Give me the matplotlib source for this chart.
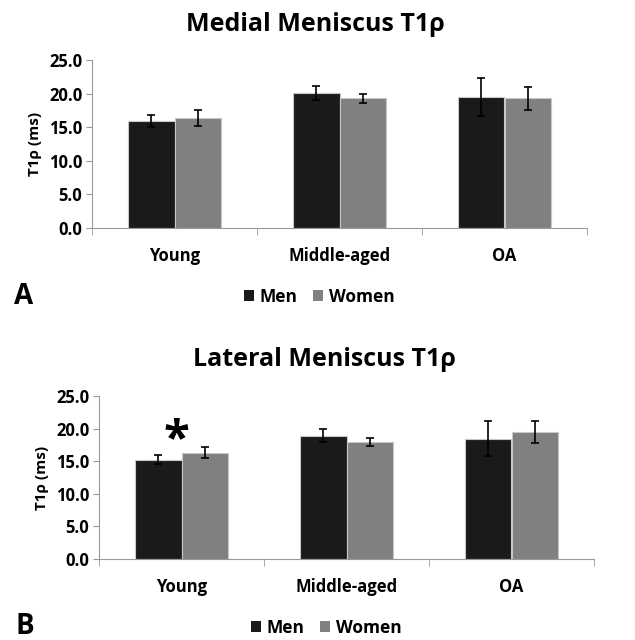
import numpy as np
import matplotlib
matplotlib.use('Agg')
import matplotlib.pyplot as plt
from matplotlib.patches import Patch

plt.rcParams['font.family'] = ['Open Sans', 'DejaVu Sans']

groups = ['Young', 'Middle-aged', 'OA']
series = ['Men', 'Women']

# Medial meniscus T1rho (ms): mean and error
medial_men = [15.9, 20.1, 19.5]
medial_men_err = [0.9, 1.1, 2.8]
medial_women = [16.4, 19.3, 19.3]
medial_women_err = [1.2, 0.7, 1.7]

# Lateral meniscus T1rho (ms)
lateral_men = [15.25, 18.9, 18.45]
lateral_men_err = [0.65, 1.0, 2.65]
lateral_women = [16.3, 17.95, 19.45]
lateral_women_err = [0.85, 0.65, 1.7]

yticks = [0, 5, 10, 15, 20, 25]
colors = ['#1a1a1a', '#808080']


def draw_panel(ax, men, men_err, women, women_err):
    x = np.arange(len(groups))
    w = 0.28
    ekw = dict(ecolor='black', capsize=3, elinewidth=1.2, capthick=1.2)
    ax.bar(x - w / 2, men, w, color=colors[0], edgecolor='#c8c8c8', linewidth=0.8,
           yerr=men_err, error_kw=ekw)
    ax.bar(x + w / 2, women, w, color=colors[1], edgecolor='#c8c8c8', linewidth=0.8,
           yerr=women_err, error_kw=ekw)
    ax.set_xlim(-0.5, 2.5)
    ax.set_ylim(0, 25)
    ax.set_yticks(yticks)
    ax.set_yticklabels(['%.1f' % v for v in yticks], fontsize=12, fontweight='bold')
    ax.set_xticks(x)
    ax.set_xticklabels(groups, fontsize=12, fontweight='bold')
    ax.set_xticks(np.arange(-0.5, 2.6, 1.0), minor=True)
    ax.tick_params(axis='x', which='major', length=0, pad=14)
    ax.tick_params(axis='x', which='minor', length=5, color='#999999', direction='out')
    ax.tick_params(axis='y', length=4, color='#999999', pad=3)
    for s in ['top', 'right']:
        ax.spines[s].set_visible(False)
    for s in ['left', 'bottom']:
        ax.spines[s].set_color('#999999')
    ax.set_ylabel('T1ρ (ms)', fontsize=11, fontweight='bold', labelpad=5)


fig = plt.figure(figsize=(6.35, 6.4), dpi=100)

ax1 = fig.add_axes([92 / 635, 412 / 640, 495 / 635, 168 / 640])
draw_panel(ax1, medial_men, medial_men_err, medial_women, medial_women_err)
fig.text(315 / 635, 1 - 31 / 640, 'Medial Meniscus T1ρ', fontsize=18, fontweight='bold',
         ha='center', va='baseline')

ax2 = fig.add_axes([99 / 635, 81 / 640, 495 / 635, 163 / 640])
draw_panel(ax2, lateral_men, lateral_men_err, lateral_women, lateral_women_err)
fig.text(324 / 635, 1 - 366 / 640, 'Lateral Meniscus T1ρ', fontsize=18, fontweight='bold',
         ha='center', va='baseline')
ax2.text(-0.03, 14.6, '*', ha='center', va='bottom', fontsize=34, fontweight='bold')

handles = [Patch(facecolor=colors[0]), Patch(facecolor=colors[1])]
for xpos, ypos in [(319, 297), (326, 628)]:
    fig.legend(handles, series, loc='center', bbox_to_anchor=(xpos / 635, 1 - ypos / 640),
               ncol=2, frameon=False, prop=dict(size=12.5, weight='bold'),
               handlelength=0.6, handleheight=0.6, handletextpad=0.3, columnspacing=0.9)

fig.text(14 / 635, 1 - 297 / 640, 'A', fontsize=20, fontweight='bold', va='center', ha='left')
fig.text(16 / 635, 1 - 626 / 640, 'B', fontsize=20, fontweight='bold', va='center', ha='left')

fig.savefig('out.png', dpi=100)
